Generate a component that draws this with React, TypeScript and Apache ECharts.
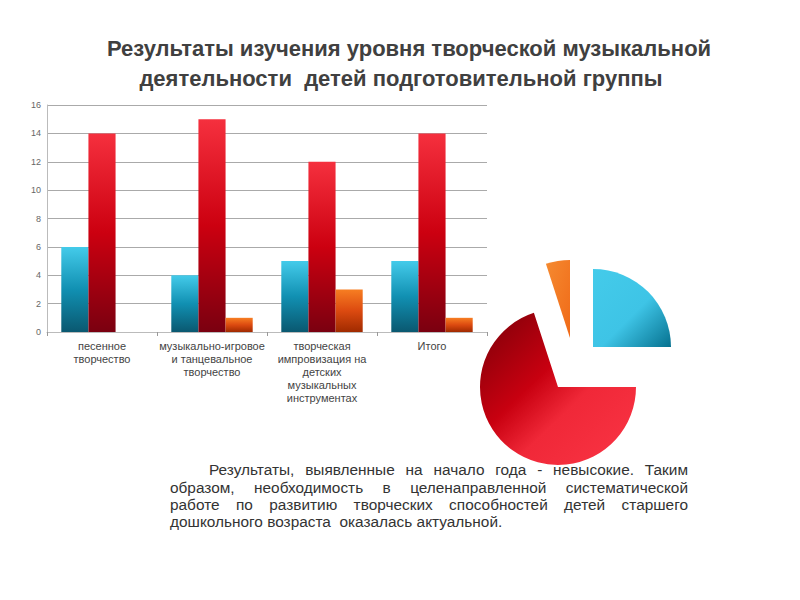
import React, { useEffect, useRef } from "react";
import * as echarts from "echarts";

const categories = [
  "песенное\nтворчество",
  "музыкально-игровое\nи танцевальное\nтворчество",
  "творческая\nимпровизация на\nдетских\nмузыкальных\nинструментах",
  "Итого",
];
const seriesNames = ["Высокий уровень", "Средний уровень", "Низкий уровень"];
const highValues = [6, 4, 5, 5];
const mediumValues = [14, 15, 12, 14];
const lowValues = [0, 1, 3, 1];
const pieValues = [5, 14, 1];
const yMin = 0;
const yMax = 16;
const yInterval = 2;

const titleLines = [
  "Результаты изучения уровня творческой музыкальной",
  "деятельности  детей подготовительной группы",
];
const paragraphLines = [
  "Результаты, выявленные на начало года - невысокие. Таким",
  "образом, необходимость в целенаправленной систематической",
  "работе по развитию творческих способностей детей старшего",
  "дошкольного возраста  оказалась актуальной.",
];

const vGrad = (top: string, mid: string, bottom: string) =>
  new echarts.graphic.LinearGradient(0, 0, 0, 1, [
    { offset: 0, color: top },
    { offset: 0.5, color: mid },
    { offset: 1, color: bottom },
  ]);

export default function App() {
  const ref = useRef<HTMLDivElement>(null);
  useEffect(() => {
    document.body.style.margin = "0";
    if (!ref.current) return;
    const chart = echarts.init(ref.current, undefined, { renderer: "svg" });

    const fontFamily = "'Liberation Sans', Arial, sans-serif";
    const pFont = 15.4;
    const canvas = document.createElement("canvas");
    const ctx = canvas.getContext("2d")!;
    ctx.font = `${pFont}px ${fontFamily}`;

    const paraGraphics: any[] = [];
    const lineY = [469, 487, 504, 521];
    const rightEdge = 688;
    paragraphLines.forEach((line, i) => {
      const left = i === 0 ? 209 : 170;
      if (i === paragraphLines.length - 1) {
        paraGraphics.push({
          type: "text",
          x: left,
          y: lineY[i],
          z: 1,
          style: { text: line, fill: "#333", fontSize: pFont, fontFamily, textVerticalAlign: "middle" },
        });
        return;
      }
      const words = line.split(" ");
      const widths = words.map((w) => ctx.measureText(w).width);
      const total = widths.reduce((a, b) => a + b, 0);
      const gap = (rightEdge - left - total) / (words.length - 1);
      let x = left;
      words.forEach((w, j) => {
        paraGraphics.push({
          type: "text",
          x,
          y: lineY[i],
          z: 1,
          style: { text: w, fill: "#333", fontSize: pFont, fontFamily, textVerticalAlign: "middle" },
        });
        x += widths[j] + gap;
      });
    });

    const pieColors = [
      new echarts.graphic.LinearGradient(0, 0, 1, 1, [
        { offset: 0, color: "#44cbea" },
        { offset: 0.55, color: "#3ec4e6" },
        { offset: 1, color: "#06718f" },
      ]),
      new echarts.graphic.LinearGradient(0, 0, 1, 1, [
        { offset: 0, color: "#7a0008" },
        { offset: 0.4, color: "#c80010" },
        { offset: 0.6, color: "#f02838" },
        { offset: 1, color: "#fa3545" },
      ]),
      new echarts.graphic.LinearGradient(0, 0, 1, 1, [
        { offset: 0, color: "#f58a30" },
        { offset: 1, color: "#f06a18" },
      ]),
    ];
    const pieCenters = [
      [593, 347],
      [558, 387],
      [570, 338],
    ];
    const pieSeries = pieCenters.map((c, k) => ({
      type: "pie",
      center: c,
      radius: 78,
      startAngle: 90,
      clockwise: true,
      silent: true,
      label: { show: false },
      labelLine: { show: false },
      emphasis: { disabled: true },
      z: 5,
      data: pieValues.map((v, idx) => ({
        value: v,
        name: seriesNames[idx],
        itemStyle: { color: idx === k ? pieColors[idx] : "rgba(0,0,0,0)" },
      })),
    }));

    chart.setOption({
      animation: false,
      grid: { left: 47, right: 313, top: 105, bottom: 268 },
      xAxis: {
        type: "category",
        data: categories,
        axisLine: { show: true, lineStyle: { color: "#bbb" } },
        axisTick: { show: true, length: 4, lineStyle: { color: "#999" } },
        axisLabel: {
          interval: 0,
          color: "#444",
          fontSize: 11,
          lineHeight: 13,
          margin: 7,
          fontFamily,
        },
      },
      yAxis: {
        type: "value",
        min: yMin,
        max: yMax,
        interval: yInterval,
        axisLine: { show: true, lineStyle: { color: "#bbb" } },
        axisTick: { show: false },
        splitLine: { lineStyle: { color: "#aaa" } },
        axisLabel: { color: "#666", fontSize: 9, margin: 6, fontFamily },
      },
      graphic: [
        ...titleLines.map((t, i) => ({
          type: "text",
          x: i === 0 ? 409 : 401,
          y: i === 0 ? 48 : 78,
          style: {
            text: t,
            fill: "#404040",
            fontSize: 22,
            fontWeight: "bold",
            fontFamily,
            textAlign: "center",
            textVerticalAlign: "middle",
          },
        })),
        ...paraGraphics,
      ],
      series: [
        {
          type: "bar",
          name: seriesNames[0],
          data: highValues,
          barGap: "0%",
          barCategoryGap: "26%",
          itemStyle: { color: vGrad("#44cbea", "#1190b2", "#0a5870") },
        },
        {
          type: "bar",
          name: seriesNames[1],
          data: mediumValues,
          itemStyle: { color: vGrad("#f5303e", "#cc0010", "#7a0010") },
        },
        {
          type: "bar",
          name: seriesNames[2],
          data: lowValues,
          itemStyle: { color: vGrad("#f77e22", "#dc4a10", "#a02a00") },
        },
        ...pieSeries,
      ],
    });
    return () => chart.dispose();
  }, []);
  return <div ref={ref} style={{ width: 800, height: 600 }} />;
}
